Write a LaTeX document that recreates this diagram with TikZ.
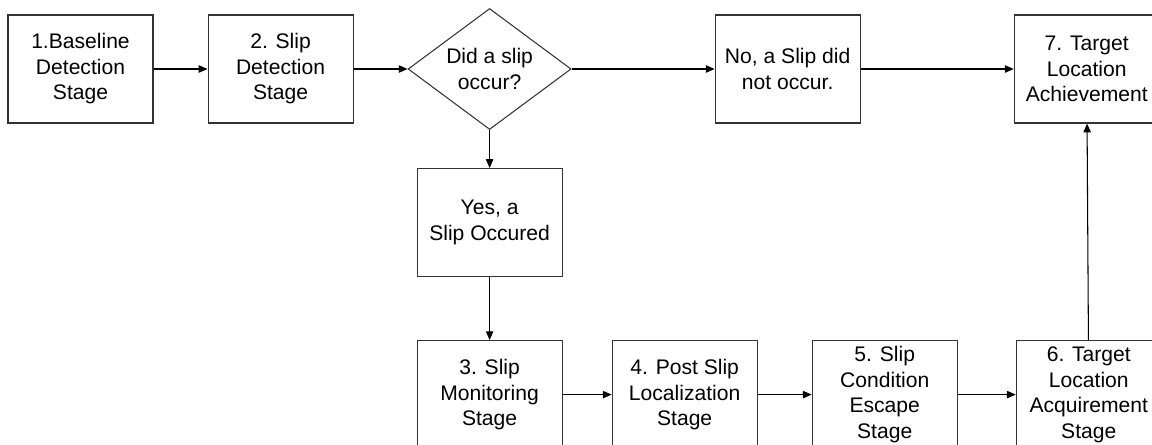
\documentclass[tikz,border=0pt]{standalone}
\usepackage{fontspec}
\setmainfont{Liberation Sans}
\usepackage{tikz}
\usetikzlibrary{positioning, arrows.meta, shapes.geometric}

\begin{document}
\begin{tikzpicture}[
                  stage/.style={draw=black!80, line width=0.6pt, align=center,
                                font=\fontsize{12}{14.5}\selectfont, inner sep=2pt,
                                minimum width=2.9cm, minimum height=2.16cm},
                  query/.style={stage, diamond, aspect=1.35, inner sep=0pt,
                                minimum width=3.26cm, minimum height=2.42cm},
                  arr/.style={-{Triangle[length=5pt, width=4.2pt]}, line width=0.6pt},
                  node distance=1.08cm,
            ]
            \useasboundingbox (0,0) rectangle (23.04,-8.88);

            % top row
            \node[stage] (base) at (1.61,-1.38) {1.Baseline\\Detection\\Stage};
            \node[stage, right=of base] (detect) {2. Slip\\Detection\\Stage};
            \node[query, right=of detect] (slipq) {Did a slip\\occur?};
            \node[stage, right=2.86cm of slipq] (noslip) {No, a Slip did\\not occur.};
            \node[stage, right=3.06cm of noslip] (achieve) {7. Target\\Location\\Achievement};

            % yes branch and bottom row
            \node[stage, below=0.76cm of slipq] (yesslip) {Yes, a\\Slip Occured};
            \node[stage, below=1.26cm of yesslip] (monitor) {3. Slip\\Monitoring\\Stage};
            \node[stage, right=0.98cm of monitor] (postloc) {4. Post Slip\\Localization\\Stage};
            \node[stage, right=of postloc] (escape) {5. Slip\\Condition\\Escape\\Stage};
            \node[stage, right=1.16cm of escape] (acquire) {6. Target\\Location\\Acquirement\\Stage};

            \draw[arr] (base) -- (detect);
            \draw[arr] (detect) -- (slipq);
            \draw[arr] (slipq.east) -- (noslip);
            \draw[arr] (noslip) -- (achieve);
            \draw[arr] (slipq.south) -- (yesslip);
            \draw[arr] (yesslip) -- (monitor);
            \draw[arr] (monitor) -- (postloc);
            \draw[arr] (postloc) -- (escape);
            \draw[arr] (escape) -- (acquire);
            \draw[arr] (acquire) -- (achieve);
      \end{tikzpicture}
\end{document}
